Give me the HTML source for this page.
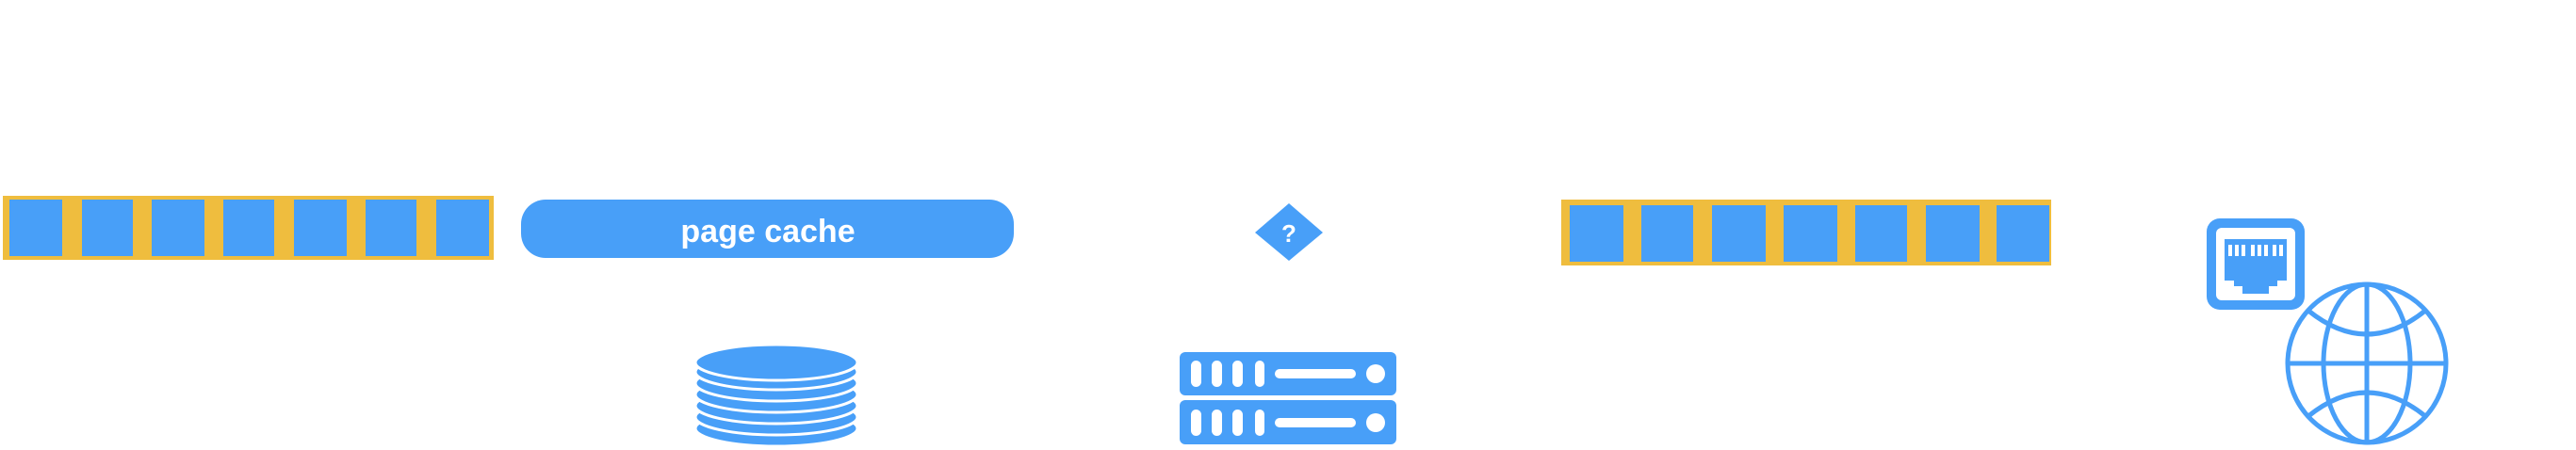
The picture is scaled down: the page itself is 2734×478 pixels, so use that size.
<!DOCTYPE html>
<html><head><style>
html,body{margin:0;padding:0;background:#fff;}
svg{display:block;}
</style></head><body>
<svg width="2734" height="478" viewBox="0 0 2734 478" xmlns="http://www.w3.org/2000/svg">
<g fill="#489ff8">
<rect x="3" y="208" width="521" height="68" fill="#efbd3e"/>
<rect x="10" y="212" width="56" height="60"/>
<rect x="87" y="212" width="54" height="60"/>
<rect x="161" y="212" width="56" height="60"/>
<rect x="237" y="212" width="54" height="60"/>
<rect x="312" y="212" width="56" height="60"/>
<rect x="388" y="212" width="54" height="60"/>
<rect x="463" y="212" width="56" height="60"/>
<rect x="553" y="212" width="523" height="62" rx="26"/>
<text x="815" y="257" fill="#fff" font-family="Liberation Sans, sans-serif" font-size="34" font-weight="bold" text-anchor="middle">page cache</text>
<polygon points="1368,216 1404,247 1368,277 1332,247"/>
<text x="1368" y="257" fill="#fff" font-family="Liberation Sans, sans-serif" font-size="26" font-weight="bold" text-anchor="middle">?</text>
<rect x="1657" y="212" width="520" height="70" fill="#efbd3e"/>
<rect x="1666" y="218" width="57" height="60"/>
<rect x="1742" y="218" width="55" height="60"/>
<rect x="1817" y="218" width="57" height="60"/>
<rect x="1893" y="218" width="57" height="60"/>
<rect x="1969" y="218" width="55" height="60"/>
<rect x="2044" y="218" width="57" height="60"/>
<rect x="2119" y="218" width="56" height="60"/>
<g stroke="#fff" stroke-width="3">
<ellipse cx="824" cy="455" rx="86" ry="19"/>
<ellipse cx="824" cy="443" rx="86" ry="19"/>
<ellipse cx="824" cy="431" rx="86" ry="19"/>
<ellipse cx="824" cy="419" rx="86" ry="19"/>
<ellipse cx="824" cy="407" rx="86" ry="19"/>
<ellipse cx="824" cy="395" rx="86" ry="19"/>
<ellipse cx="824" cy="385" rx="86" ry="19"/>
</g>
<rect x="1252" y="374" width="230" height="46" rx="6"/>
<rect x="1252" y="425" width="230" height="47" rx="6"/>
<g fill="#fff">
<rect x="1264" y="383" width="11" height="28" rx="5.5"/>
<rect x="1286" y="383" width="11" height="28" rx="5.5"/>
<rect x="1308" y="383" width="11" height="28" rx="5.5"/>
<rect x="1332" y="383" width="10" height="28" rx="5"/>
<rect x="1353" y="392" width="86" height="10" rx="5"/>
<circle cx="1460" cy="397" r="10"/>
<rect x="1264" y="435" width="11" height="28" rx="5.5"/>
<rect x="1286" y="435" width="11" height="28" rx="5.5"/>
<rect x="1308" y="435" width="11" height="28" rx="5.5"/>
<rect x="1332" y="435" width="10" height="28" rx="5"/>
<rect x="1353" y="444" width="86" height="10" rx="5"/>
<circle cx="1460" cy="449" r="10"/>
</g>
<rect x="2342" y="232" width="104" height="97" rx="14"/>
<rect x="2352" y="242" width="84" height="77" rx="6" fill="#fff"/>
<rect x="2361" y="254" width="66" height="44"/>
<rect x="2371" y="298" width="46" height="6"/>
<rect x="2380" y="304" width="28" height="8"/>
<g fill="#fff">
<rect x="2365" y="260" width="4" height="12"/><rect x="2372" y="260" width="4" height="12"/>
<rect x="2379" y="260" width="4" height="12"/><rect x="2389" y="260" width="4" height="12"/>
<rect x="2396" y="260" width="4" height="12"/><rect x="2403" y="260" width="4" height="12"/>
<rect x="2412" y="260" width="4" height="12"/><rect x="2419" y="260" width="4" height="12"/>
</g>
</g>
<g fill="none" stroke="#489ff8" stroke-width="5">
<circle cx="2512" cy="386" r="84"/>
<ellipse cx="2512" cy="386" rx="46" ry="84"/>
<line x1="2512" y1="302" x2="2512" y2="470"/>
<line x1="2428" y1="386" x2="2596" y2="386"/>
<path d="M2450 330 Q2512 380 2574 330"/>
<path d="M2450 442 Q2512 392 2574 442"/>
</g>
</svg>
</body></html>
